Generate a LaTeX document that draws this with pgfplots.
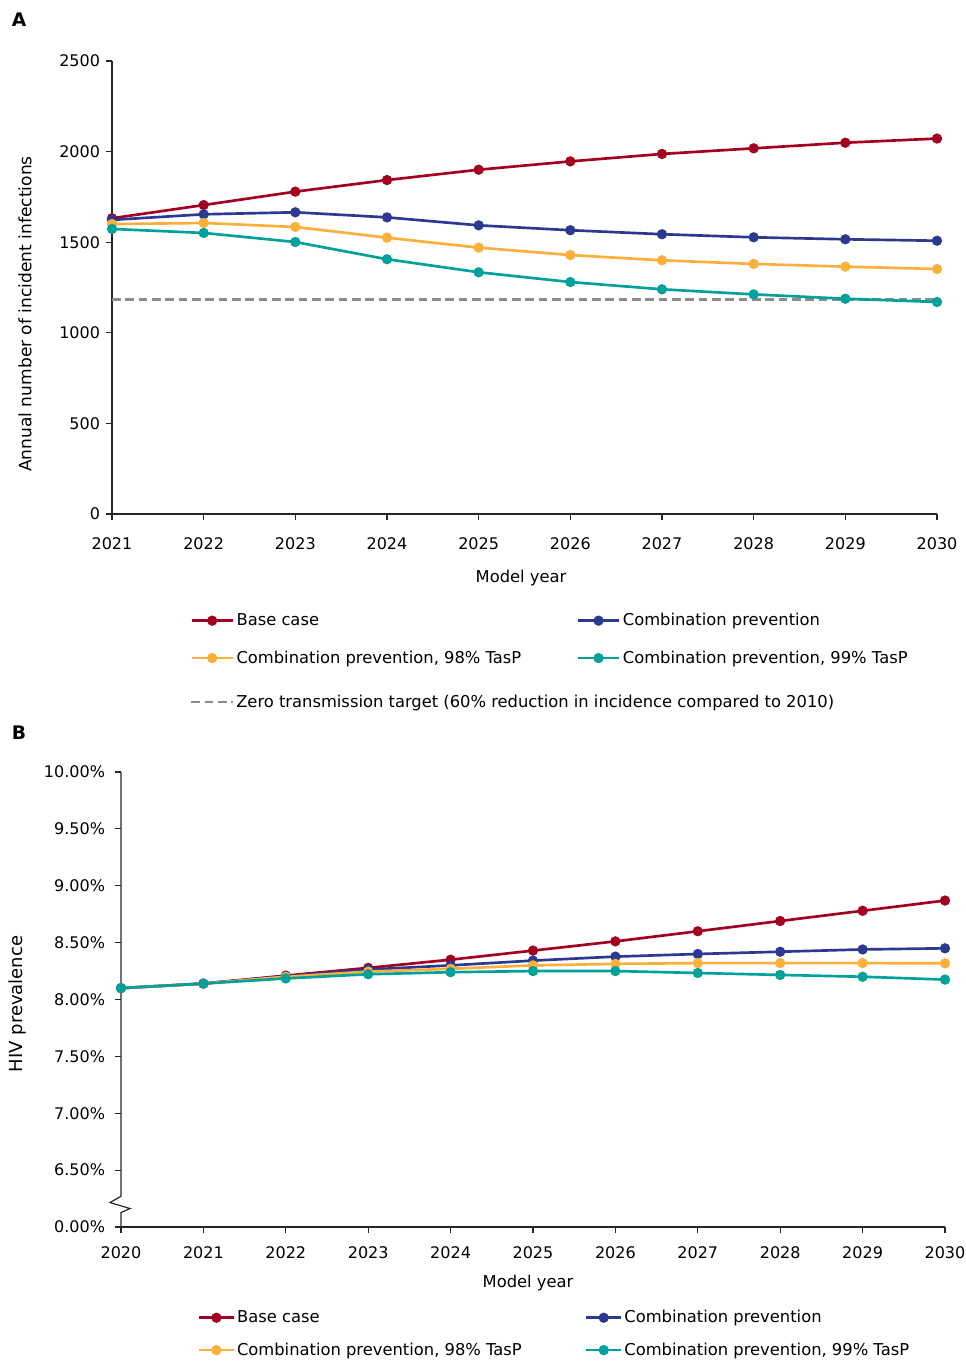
\documentclass[border=0pt]{standalone}
\usepackage{fontspec}
\setmainfont{DejaVu Sans}
\usepackage{pgfplots}
\pgfplotsset{compat=1.18}
\definecolor{cred}{RGB}{163,0,33}
\definecolor{cblue}{RGB}{43,57,144}
\definecolor{corange}{RGB}{251,176,59}
\definecolor{cteal}{RGB}{0,161,154}
\definecolor{cgray}{RGB}{140,140,140}
\newcommand{\st}{\rule[-3pt]{0pt}{12pt}}
\pgfplotsset{
  mystyle/.style={
    scale only axis, axis lines=left,
    axis line style={-,black!85,line width=0.9pt},
    tick style={black!85,line width=0.9pt},
    tick align=outside, major tick length=4.5pt, clip=false,
    font=\fontsize{12}{14}\selectfont,
    every axis plot/.append style={line width=2pt, mark=*, mark size=2.8pt},
    legend cell align=left,
  },
  sred/.style={color=cred, mark options={fill=cred}},
  sblue/.style={color=cblue, mark options={fill=cblue}},
  sorange/.style={color=corange, mark options={fill=corange}},
  steal/.style={color=cteal, mark options={fill=cteal}},
}
\begin{document}
\begin{tikzpicture}
\path[use as bounding box] (0,0) rectangle (724.5pt,1020.75pt);
% Panel A
\begin{axis}[mystyle,
  at={(84pt,635.25pt)}, anchor=south west,
  width=618.75pt, height=339.75pt,
  xmin=2021, xmax=2030, ymin=0, ymax=2500,
  xtick={2021,2022,2023,2024,2025,2026,2027,2028,2029,2030},
  xticklabels={2021,2022,2023,2024,2025,2026,2027,2028,2029,2030},
  ytick={0,500,1000,1500,2000,2500},
  yticklabels={0,500,1000,1500,2000,2500},
  xticklabel style={yshift=-9.5pt},
  yticklabel style={xshift=-1pt},
  legend columns=2,
  legend image code/.code={\draw[mark repeat=2,mark phase=2,#1] plot coordinates {(0pt,0pt)(15.5pt,0pt)(31pt,0pt)};},
  legend style={draw=none, fill=none, inner sep=0pt, at={(0.0945,-0.219)}, anchor=north west,
    nodes={inner sep=0pt}, row sep=17.25pt,
    /tikz/every odd column/.style={column sep=1.75pt},
    font=\fontsize{12.25}{14}\selectfont},
]
\addplot[color=cgray, line width=1.8pt, mark=none, dash pattern=on 6.5pt off 3.5pt, forget plot] coordinates {(2021,1184) (2030,1184)};
\addplot[sred] coordinates {(2021,1632) (2022,1705) (2023,1779) (2024,1843) (2025,1900) (2026,1946) (2027,1987) (2028,2018) (2029,2049) (2030,2072)};
\addlegendentry{\makebox[255pt][l]{\st Base case}}
\addplot[sblue] coordinates {(2021,1623) (2022,1654) (2023,1665) (2024,1637) (2025,1593) (2026,1566) (2027,1544) (2028,1527) (2029,1516) (2030,1508)};
\addlegendentry{\st Combination prevention}
\addplot[sorange] coordinates {(2021,1600) (2022,1606) (2023,1584) (2024,1525) (2025,1470) (2026,1429) (2027,1400) (2028,1380) (2029,1365) (2030,1352)};
\addlegendentry{\makebox[255pt][l]{\st Combination prevention, 98\% TasP}}
\addplot[steal] coordinates {(2021,1573) (2022,1551) (2023,1501) (2024,1406) (2025,1334) (2026,1280) (2027,1240) (2028,1212) (2029,1188) (2030,1170)};
\addlegendentry{\st Combination prevention, 99\% TasP}
\end{axis}
% dashed legend entry
\begin{axis}[scale only axis, hide axis,
  at={(84pt,635.25pt)}, anchor=south west,
  width=618.75pt, height=339.75pt,
  xmin=0, xmax=1, ymin=0, ymax=1,
  legend image code/.code={\draw[#1] (0pt,0pt) -- (31pt,0pt);},
  legend style={draw=none, fill=none, inner sep=0pt, at={(0.0945,-0.399)}, anchor=north west,
    nodes={inner sep=0pt},
    /tikz/every odd column/.style={column sep=1.75pt},
    font=\fontsize{12.25}{14}\selectfont},
]
\addlegendimage{color=cgray, line width=1.8pt, dash pattern=on 6.5pt off 3.5pt}
\addlegendentry{\st Zero transmission target (60\% reduction in incidence compared to 2010)}
\end{axis}
% Panel B
\begin{axis}[mystyle,
  at={(90.75pt,100.5pt)}, anchor=south west,
  width=618pt, height=341.25pt,
  xmin=2020, xmax=2030, ymin=6, ymax=10,
  y axis line style={draw=none},
  xtick={2020,2021,2022,2023,2024,2025,2026,2027,2028,2029,2030},
  xticklabels={2020,2021,2022,2023,2024,2025,2026,2027,2028,2029,2030},
  ytick={6,6.5,7,7.5,8,8.5,9,9.5,10},
  yticklabels={0.00\%,6.50\%,7.00\%,7.50\%,8.00\%,8.50\%,9.00\%,9.50\%,10.00\%},
  xticklabel style={yshift=-7pt},
  yticklabel style={xshift=-4pt},
  legend columns=2,
  legend image code/.code={\draw[mark repeat=2,mark phase=2,#1] plot coordinates {(0pt,0pt)(13pt,0pt)(26pt,0pt)};},
  legend style={draw=none, fill=none, inner sep=0pt, at={(0.0928,-0.183)}, anchor=north west,
    nodes={inner sep=0pt}, row sep=13.5pt,
    /tikz/every odd column/.style={column sep=1.5pt},
    font=\fontsize{12.25}{14}\selectfont},
]
\draw[black!85, line width=0.9pt] (axis cs:2020,10) -- (axis cs:2020,6.27) -- ++(-8.25pt,-4.7pt) -- ++(15pt,-4.5pt) -- ++(-6.75pt,-3pt) -- (axis cs:2020,6);
\addplot[sred] coordinates {(2020,8.10) (2021,8.14) (2022,8.21) (2023,8.278) (2024,8.35) (2025,8.43) (2026,8.511) (2027,8.60) (2028,8.69) (2029,8.78) (2030,8.87)};
\addlegendentry{\makebox[261pt][l]{\st Base case}}
\addplot[sblue] coordinates {(2020,8.10) (2021,8.14) (2022,8.205) (2023,8.263) (2024,8.30) (2025,8.342) (2026,8.377) (2027,8.40) (2028,8.42) (2029,8.44) (2030,8.45)};
\addlegendentry{\st Combination prevention}
\addplot[sorange] coordinates {(2020,8.10) (2021,8.14) (2022,8.20) (2023,8.245) (2024,8.27) (2025,8.30) (2026,8.313) (2027,8.32) (2028,8.32) (2029,8.32) (2030,8.318)};
\addlegendentry{\makebox[261pt][l]{\st Combination prevention, 98\% TasP}}
\addplot[steal] coordinates {(2020,8.10) (2021,8.14) (2022,8.185) (2023,8.222) (2024,8.24) (2025,8.25) (2026,8.25) (2027,8.233) (2028,8.216) (2029,8.20) (2030,8.175)};
\addlegendentry{\st Combination prevention, 99\% TasP}
\end{axis}
% Labels
\node[font=\bfseries\fontsize{14}{16}\selectfont] at (14.25pt,1005.75pt) {A};
\node[font=\bfseries\fontsize{14}{16}\selectfont] at (14.25pt,471pt) {B};
\node[rotate=90, font=\fontsize{12.8}{14}\selectfont] at (18.75pt,785.25pt) {Annual number of incident infections};
\node[font=\fontsize{12.25}{14}\selectfont] at (390.75pt,587.25pt) {Model year};
\node[rotate=90, font=\fontsize{13.5}{15}\selectfont] at (13.5pt,267.75pt) {HIV prevalence};
\node[font=\fontsize{12.25}{14}\selectfont] at (396pt,58.5pt) {Model year};
\end{tikzpicture}
\end{document}
